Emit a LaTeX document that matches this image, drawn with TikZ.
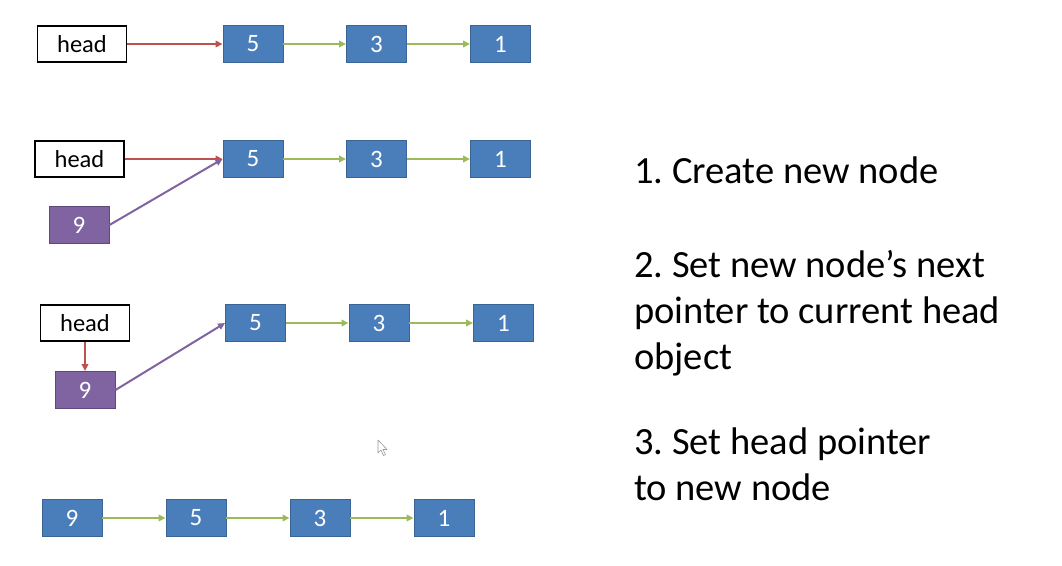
\documentclass[tikz,border=0pt]{standalone}
\usepackage{fontspec}
\setmainfont{Carlito}
\frenchspacing
\usetikzlibrary{arrows.meta}
\definecolor{nodeblue}{HTML}{4A7EBB}
\definecolor{blueborder}{HTML}{3A6494}
\definecolor{nodepurple}{HTML}{8064A2}
\definecolor{purpleborder}{HTML}{5E4A7A}
\definecolor{arrowgreen}{HTML}{9BBB59}
\definecolor{arrowred}{HTML}{C0504D}
\definecolor{arrowpurple}{HTML}{8064A2}
\begin{document}
\begin{tikzpicture}[x=1pt,y=-1pt,
  blk/.style={draw=blueborder, line width=0.9pt, fill=nodeblue, minimum width=60pt, minimum height=37pt, inner sep=0pt, text=white, font=\fontsize{25}{30}\selectfont},
  pblk/.style={blk, draw=purpleborder, fill=nodepurple},
  headbox/.style={draw=black, line width=1.2pt, fill=white, minimum width=89pt, minimum height=36pt, inner sep=0pt, font=\fontsize{24.5}{29}\selectfont},
  tip/.style={-{Triangle[length=7pt,width=6.5pt]}},
  garrow/.style={tip, draw=arrowgreen, line width=2pt},
  rarrow/.style={tip, draw=arrowred, line width=2pt},
  parrow/.style={tip, draw=arrowpurple, line width=2pt},
  txt/.style={anchor=base west, inner sep=0pt, font=\fontsize{38.5}{46}\selectfont}
]
\useasboundingbox (0,0) rectangle (1062,565);
\fill[white] (0,0) rectangle (1062,565);

% Row 1
\node[headbox] (h1) at (82,44) {head};
\node[blk] (a5) at (253,44) {5};
\node[blk] (a3) at (376.5,44) {3};
\node[blk] (a1) at (500.5,44) {1};
\draw[rarrow] (h1) -- (a5);
\draw[garrow] (a5) -- (a3);
\draw[garrow] (a3) -- (a1);

% Row 2
\node[headbox] (h2) at (79.5,159) {head};
\node[blk] (b5) at (253,159) {5};
\node[blk] (b3) at (376.5,159) {3};
\node[blk] (b1) at (500.5,159) {1};
\node[pblk] (b9) at (79,225) {9};
\draw[rarrow] (h2.east) -- (b5.west);
\draw[parrow] (b9.east) -- (b5.west);
\draw[garrow] (b5) -- (b3);
\draw[garrow] (b3) -- (b1);

% Row 3
\node[headbox] (h3) at (85,323) {head};
\node[blk] (c5) at (255.5,323) {5};
\node[blk] (c3) at (379,323) {3};
\node[blk] (c1) at (503.5,323) {1};
\node[pblk] (c9) at (85,390) {9};
\draw[rarrow] (h3) -- (c9);
\draw[parrow] (c9.east) -- (c5.west);
\draw[garrow] (c5) -- (c3);
\draw[garrow] (c3) -- (c1);

% Row 4
\node[blk] (d9) at (72,518) {9};
\node[blk] (d5) at (196,518) {5};
\node[blk] (d3) at (320,518) {3};
\node[blk] (d1) at (444,518) {1};
\draw[garrow] (d9) -- (d5);
\draw[garrow] (d5) -- (d3);
\draw[garrow] (d3) -- (d1);

% Text
\node[txt] (t1) at (634,183) {1. Create new node};
\node[txt] (t2) at (634,277) {2. Set new node’s next};
\node[txt] (t3) at (634,323) {pointer to current head};
\node[txt] (t4) at (634,369) {object};
\node[txt] (t5) at (634,454) {3. Set head pointer};
\node[txt] (t6) at (634,500) {to new node};

% mouse cursor
\filldraw[draw=gray!80, fill=white, line width=0.6pt, line join=round]
  (378,440) -- (378,453) -- (381,450) -- (383.5,455.5) -- (385.5,454.5) -- (383,449.5) -- (387,449.5) -- cycle;
\end{tikzpicture}
\end{document}
